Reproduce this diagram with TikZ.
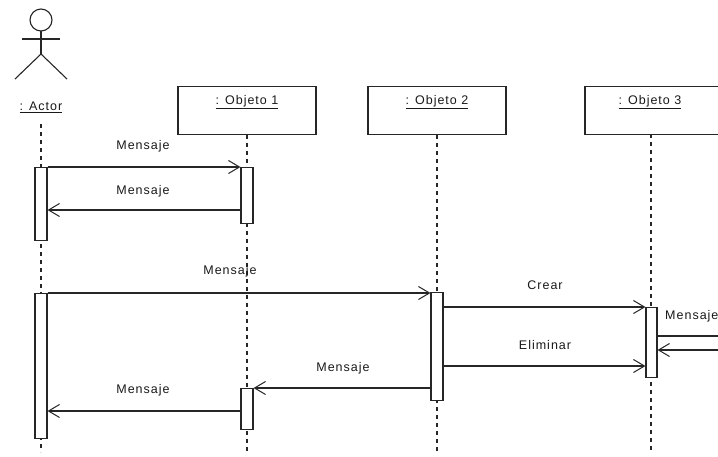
\documentclass[tikz,border=0pt]{standalone}
\usepackage{fontspec}
\setmainfont{Liberation Sans}
\newfontfamily\lblfont[LetterSpace=8]{Liberation Sans}
\usetikzlibrary{arrows.meta}
\begin{document}
\begin{tikzpicture}[x=1pt,y=-1pt,
  ln/.style={line width=1.1pt,draw=black!85},
  life/.style={line width=1.2pt,draw=black!85,dash pattern=on 4pt off 4pt},
  act/.style={ln,fill=white,rectangle,minimum width=12pt,inner sep=0pt,anchor=north},
  obj/.style={ln,fill=white,rectangle,minimum width=138pt,minimum height=48pt,anchor=north,inner sep=0pt},
  msg/.style={ln,-{Straight Barb[length=11pt,width=13pt,line width=1pt]}},
  plain/.style={ln},
  lbl/.style={font=\lblfont\fontsize{12.5}{14}\selectfont,text=black!90,inner sep=0pt}
]
\clip (0,0) rectangle (718,456);
\fill[white] (0,0) rectangle (718,456);
% actor
\draw[ln] (41,20) circle (11);
\draw[ln] (41,31) -- (41,54) coordinate (hip);
\draw[ln] (22,39) -- (60,39);
\draw[ln] (hip) -- (15,79);
\draw[ln] (hip) -- (67,79);
\node[lbl] (actor) at (41,107) {\underline{: Actor}};
% objects
\node[obj] (o1) at (247,86) {};
\node[obj] (o2) at (437,86) {};
\node[obj] (o3) at (654,86) {};
\node[lbl] (t1) at (247,102) {\underline{: Objeto 1}};
\node[lbl] (t2) at (437,102) {\underline{: Objeto 2}};
\node[lbl] (t3) at (650,102) {\underline{: Objeto 3}};
% lifelines
\coordinate (e0) at (41,452);
\coordinate (e1) at (247,452);
\coordinate (e2) at (437,452);
\coordinate (e3) at (651,452);
\draw[life] (41,124) -- (e0);
\draw[life] (o1.south) -- (e1);
\draw[life] (o2.south) -- (e2);
\draw[life] (651,134) -- (e3);
% activations
\node[act,minimum height=73pt] (A1) at (41,167) {};
\node[act,minimum height=145pt] (A2) at (41,293) {};
\node[act,minimum height=56pt] (B1) at (247,167) {};
\node[act,minimum height=41pt] (B2) at (247,388) {};
\node[act,minimum height=108pt] (C1) at (437,292) {};
\node[act,minimum height=70pt,minimum width=11pt] (D1) at (651.5,307) {};
% messages
\draw[msg] (A1.east |- 0,167) -- (B1.west |- 0,167);
\node[lbl] at (143,146) {Mensaje};
\draw[msg] (B1.west |- 0,210) -- (A1.east |- 0,210);
\node[lbl] at (143,191) {Mensaje};
\draw[msg] (A2.east |- 0,293) -- (C1.west |- 0,293);
\node[lbl] at (230,271) {Mensaje};
\draw[msg] (C1.east |- 0,307) -- (D1.west |- 0,307);
\node[lbl] at (545,285) {Crear};
\draw[msg] (C1.east |- 0,366) -- (D1.west |- 0,366);
\node[lbl] at (545,345) {Eliminar};
\coordinate (out1) at (722,336);
\coordinate (in1) at (722,350);
\draw[plain] (D1.east |- 0,336) -- (out1);
\draw[msg] (in1) -- (D1.east |- 0,350);
\node[lbl,anchor=west] at (665,316) {Mensaje};
\draw[msg] (C1.west |- 0,388) -- (B2.east |- 0,388);
\node[lbl] at (343,368) {Mensaje};
\draw[msg] (B2.west |- 0,411) -- (A2.east |- 0,411);
\node[lbl] at (143,390) {Mensaje};
\end{tikzpicture}
\end{document}
